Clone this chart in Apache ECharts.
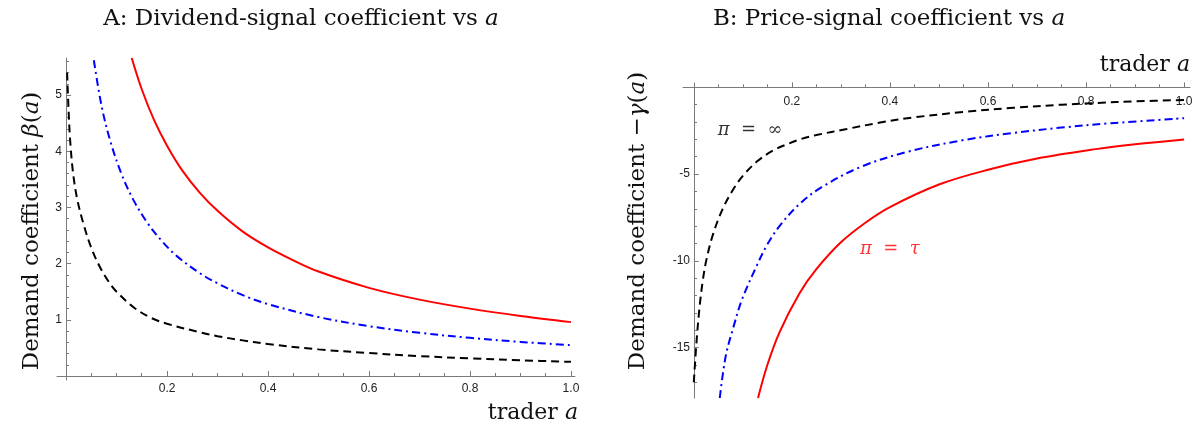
<!DOCTYPE html>
<html><head><meta charset="utf-8">
<script src="https://cdn.jsdelivr.net/npm/echarts@6/dist/echarts.min.js"></script>
<style>html,body{margin:0;padding:0;background:#fff}#c{width:1196px;height:428px}</style>
</head><body><div id="c"></div>
<script>
// ---------- Panel A: beta(a) ----------
const aA_inf   = [0.002, 0.0046, 0.008, 0.014, 0.022, 0.034, 0.05, 0.067, 0.085, 0.1, 0.133, 0.165, 0.2, 0.265, 0.3, 0.35, 0.4, 0.5, 0.6, 0.7, 0.8, 0.9, 1.0];
const betaInf  = [5.40, 4.80, 4.20, 3.60, 3.15, 2.72, 2.28, 1.94, 1.67, 1.50, 1.23, 1.05, 0.93, 0.78, 0.71, 0.635, 0.57, 0.475, 0.41, 0.355, 0.315, 0.281, 0.253];
const aA_mid   = [0.055, 0.07, 0.087, 0.11, 0.133, 0.16, 0.19, 0.22, 0.265, 0.3, 0.35, 0.4, 0.5, 0.6, 0.7, 0.8, 0.9, 1.0];
const betaMid  = [5.62, 4.82, 4.20, 3.59, 3.14, 2.74, 2.40, 2.13, 1.83, 1.65, 1.44, 1.28, 1.05, 0.888, 0.77, 0.68, 0.608, 0.55];
const aA_tau   = [0.13, 0.15, 0.175, 0.2, 0.23, 0.265, 0.3, 0.35, 0.4, 0.45, 0.5, 0.6, 0.7, 0.8, 0.9, 1.0];
const betaTau  = [5.66, 5.10, 4.54, 4.10, 3.66, 3.26, 2.94, 2.57, 2.29, 2.06, 1.86, 1.57, 1.36, 1.20, 1.07, 0.96];

// ---------- Panel B: -gamma(a) ----------
const aB_inf   = [0.0, 0.006, 0.012, 0.018, 0.026, 0.04, 0.059, 0.08, 0.1, 0.13, 0.161, 0.19, 0.216, 0.25, 0.312, 0.38, 0.447, 0.55, 0.651, 0.75, 0.822, 0.9, 1.0];
const gamInf   = [-17.0, -14.5, -12.6, -11.2, -9.9, -8.4, -7.0, -5.9, -5.1, -4.25, -3.65, -3.28, -3.0, -2.75, -2.4, -2.03, -1.74, -1.42, -1.18, -1.0, -0.9, -0.81, -0.73];
const aB_mid   = [0.053, 0.065, 0.08, 0.098, 0.128, 0.15, 0.176, 0.216, 0.26, 0.34, 0.435, 0.55, 0.651, 0.75, 0.85, 1.0];
const gamMid   = [-17.9, -15.5, -13.9, -12.25, -10.3, -9.05, -7.95, -6.71, -5.77, -4.59, -3.72, -3.04, -2.63, -2.32, -2.07, -1.78];
const aB_tau   = [0.131, 0.15, 0.175, 0.216, 0.25, 0.3, 0.35, 0.4, 0.5, 0.6, 0.7, 0.82, 0.9, 1.0];
const gamTau   = [-17.9, -16.0, -14.1, -11.85, -10.48, -8.93, -7.8, -6.9, -5.6, -4.75, -4.1, -3.56, -3.28, -3.0];

// ---------- ticks ----------
const xMajor   = [0.2, 0.4, 0.6, 0.8, 1.0];
const xMinor   = [0.05, 0.1, 0.15, 0.25, 0.3, 0.35, 0.45, 0.5, 0.55, 0.65, 0.7, 0.75, 0.85, 0.9, 0.95];
const yAMajor  = [1, 2, 3, 4, 5];
const yAMinor  = [0.2,0.4,0.6,0.8,1.2,1.4,1.6,1.8,2.2,2.4,2.6,2.8,3.2,3.4,3.6,3.8,4.2,4.4,4.6,4.8,5.2,5.4,5.6];
const yBMajor  = [-15, -10, -5];
const yBMinor  = [-17,-16,-14,-13,-12,-11,-9,-8,-7,-6,-4,-3,-2,-1];

// ---------- annotations ----------
const annoText = ['{i|π}  =  ∞', '{i|π}  =  {i|τ}'];
const annoA    = [0.115, 0.40];
const annoV    = [-2.45, -9.35];
const annoCol  = ['#000000', '#ff0000'];

const zip = (xs, ys) => xs.map((x, i) => [x, ys[i]]);
const AX = '#7a7a7a', LBL = '#222222';
const serif = '"DejaVu Serif", "Liberation Serif", serif';
const sans = '"Liberation Sans", Arial, sans-serif';
const FS = 23;
const TFS = 12;

function mainX(gi, min, max, top, margin) {
  return { type: 'value', gridIndex: gi, min, max, position: top ? 'top' : 'bottom',
    axisLine: { show: true, onZero: true, lineStyle: { color: AX, width: 1 } },
    axisTick: { show: true, inside: !top, length: 5, customValues: xMajor, lineStyle: { color: AX } },
    axisLabel: { show: true, inside: !!top, customValues: xMajor, margin: margin, color: LBL, fontFamily: sans, fontSize: TFS,
      formatter: v => v.toFixed(1) },
    splitLine: { show: false } };
}
function minorX(gi, min, max, top) {
  return { type: 'value', gridIndex: gi, min, max, position: top ? 'top' : 'bottom',
    axisLine: { show: false, onZero: false },
    axisTick: { show: true, inside: !top, length: 3, customValues: xMinor, lineStyle: { color: AX } },
    axisLabel: { show: false }, splitLine: { show: false } };
}
function mainY(gi, min, max, major, margin) {
  return { type: 'value', gridIndex: gi, min, max, position: 'left',
    axisLine: { show: true, onZero: true, lineStyle: { color: AX, width: 1 } },
    axisTick: { show: true, inside: true, length: 5, customValues: major, lineStyle: { color: AX } },
    axisLabel: { show: true, customValues: major, margin: margin, color: LBL, fontFamily: sans, fontSize: TFS },
    splitLine: { show: false } };
}
function minorY(gi, min, max, minor) {
  return { type: 'value', gridIndex: gi, min, max, position: 'left',
    axisLine: { show: false, onZero: false },
    axisTick: { show: true, inside: true, length: 3, customValues: minor, lineStyle: { color: AX } },
    axisLabel: { show: false }, splitLine: { show: false } };
}

function richCol(size, col) {
  return { i: { fontStyle: 'italic', fontFamily: serif, fontSize: size, color: col } };
}
const rich = richCol(FS, '#111');
const rich22 = richCol(22, '#111');

function lineSeries(xi, yi, xs, ys, color, dash) {
  return { type: 'line', xAxisIndex: xi, yAxisIndex: yi, data: zip(xs, ys), showSymbol: false, symbol: 'none',
    smooth: 0.35, clip: true, animation: false,
    lineStyle: { color, width: 2, type: dash } };
}

const chart = echarts.init(document.getElementById('c'), null, { renderer: 'canvas' });
chart.setOption({
  animation: false,
  backgroundColor: '#ffffff',
  title: [
    { text: 'A: Dividend-signal coefficient vs {i|a}', left: 296, top: 3, textAlign: 'center',
      textStyle: { fontFamily: serif, fontSize: FS, fontWeight: 'normal', color: '#111', rich: rich } },
    { text: 'B: Price-signal coefficient vs {i|a}', left: 884, top: 3, textAlign: 'center',
      textStyle: { fontFamily: serif, fontSize: FS, fontWeight: 'normal', color: '#111', rich: rich } }
  ],
  grid: [
    { left: 57, top: 58, width: 518, height: 322, containLabel: false },
    { left: 683, top: 83, width: 507, height: 315, containLabel: false },
    // grids whose edges sit on the zero lines, used only for the minor ticks
    { left: 66, top: 58, width: 509, height: 318, containLabel: false },
    { left: 694, top: 87.3, width: 496, height: 310.6, containLabel: false }
  ],
  xAxis: [ mainX(0, -0.018, 1.008, false, 3), mainX(1, -0.022, 1.012, true, 13),
           minorX(2, 0, 1.008, false), minorX(3, 0, 1.012, true) ],
  yAxis: [ mainY(0, -0.07, 5.66, yAMajor, -5), mainY(1, -17.9, 0.25, yBMajor, -7),
           minorY(2, 0, 5.66, yAMinor), minorY(3, -17.9, 0, yBMinor) ],
  series: [
    lineSeries(0, 0, aA_inf, betaInf, '#000000', [8, 5]),
    lineSeries(0, 0, aA_mid, betaMid, '#0000ff', [8, 4, 2, 4]),
    lineSeries(0, 0, aA_tau, betaTau, '#ff0000', 'solid'),
    lineSeries(1, 1, aB_inf, gamInf, '#000000', [8, 5]),
    lineSeries(1, 1, aB_mid, gamMid, '#0000ff', [8, 4, 2, 4]),
    lineSeries(1, 1, aB_tau, gamTau, '#ff0000', 'solid'),
    { type: 'scatter', xAxisIndex: 1, yAxisIndex: 1, symbolSize: 0, animation: false, silent: true,
      data: annoA.map((a, i) => ({ value: [a, annoV[i]],
        label: { show: true, position: 'inside', formatter: annoText[i], color: annoCol[i],
          fontFamily: serif, fontSize: 18, rich: richCol(18, annoCol[i]) } })) }
  ],
  graphic: [
    { type: 'text', x: 32, y: 231, rotation: Math.PI / 2,
      style: { text: 'Demand coefficient {i|β}({i|a})', font: FS + 'px ' + serif, fill: '#111',
        align: 'center', verticalAlign: 'middle', textAlign: 'center', textVerticalAlign: 'middle', rich: rich } },
    { type: 'text', x: 638, y: 221, rotation: Math.PI / 2,
      style: { text: 'Demand coefficient −{i|γ}({i|a})', font: FS + 'px ' + serif, fill: '#111',
        align: 'center', verticalAlign: 'middle', textAlign: 'center', textVerticalAlign: 'middle', rich: rich } },
    { type: 'text', x: 578, y: 413,
      style: { text: 'trader {i|a}', font: '22px ' + serif, fill: '#111',
        align: 'right', verticalAlign: 'middle', textAlign: 'right', textVerticalAlign: 'middle', rich: rich22 } },
    { type: 'text', x: 1190, y: 65,
      style: { text: 'trader {i|a}', font: '22px ' + serif, fill: '#111',
        align: 'right', verticalAlign: 'middle', textAlign: 'right', textVerticalAlign: 'middle', rich: rich22 } }
  ]
});
</script>
</body></html>
